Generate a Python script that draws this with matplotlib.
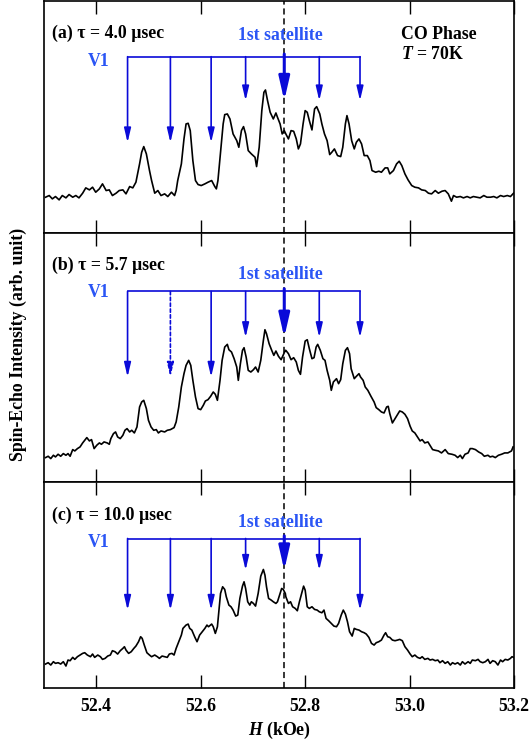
import numpy as np
import matplotlib
matplotlib.use("Agg")
import matplotlib.pyplot as plt

plt.rcParams['font.family'] = ['Liberation Serif', 'DejaVu Serif']
plt.rcParams['font.weight'] = 'bold'
plt.rcParams['mathtext.fontset'] = 'custom'
plt.rcParams['mathtext.it'] = 'Liberation Serif:italic:bold'
plt.rcParams['mathtext.rm'] = 'Liberation Serif:bold'
plt.rcParams['mathtext.bf'] = 'Liberation Serif:bold'

# (a) tau = 4.0 usec
H_a = [52.303, 52.310, 52.316, 52.322, 52.329, 52.335, 52.342, 52.348, 52.355, 52.361,
       52.367, 52.374, 52.380, 52.387, 52.393, 52.399, 52.406, 52.412, 52.419, 52.425,
       52.431, 52.438, 52.444, 52.451, 52.457, 52.464, 52.470, 52.476, 52.483, 52.487,
       52.491, 52.496, 52.502, 52.506, 52.512, 52.518, 52.524, 52.531, 52.537, 52.544,
       52.550, 52.553, 52.556, 52.563, 52.568, 52.572, 52.576, 52.580, 52.585, 52.590,
       52.595, 52.601, 52.608, 52.614, 52.621, 52.627, 52.630, 52.633, 52.639, 52.643,
       52.646, 52.651, 52.656, 52.662, 52.669, 52.673, 52.678, 52.682, 52.686, 52.691,
       52.697, 52.704, 52.707, 52.712, 52.717, 52.721, 52.724, 52.728, 52.733, 52.739,
       52.744, 52.747, 52.752, 52.756, 52.760, 52.763, 52.768, 52.773, 52.778, 52.783,
       52.787, 52.791, 52.796, 52.800, 52.804, 52.808, 52.813, 52.818, 52.822, 52.828,
       52.832, 52.837, 52.842, 52.847, 52.851, 52.856, 52.862, 52.868, 52.872, 52.877,
       52.880, 52.884, 52.889, 52.894, 52.898, 52.903, 52.908, 52.913, 52.919, 52.924,
       52.928, 52.935, 52.941, 52.946, 52.953, 52.958, 52.962, 52.969, 52.975, 52.980,
       52.985, 52.991, 52.997, 53.004, 53.010, 53.017, 53.023, 53.030, 53.036, 53.042,
       53.049, 53.055, 53.062, 53.068, 53.074, 53.080, 53.084, 53.090, 53.097, 53.103,
       53.110, 53.116, 53.122, 53.129, 53.135, 53.142, 53.148, 53.155, 53.161, 53.167,
       53.174, 53.180, 53.187, 53.193, 53.199]
I_a = [1.00, 1.05, 0.95, 1.02, 0.92, 1.05, 0.98, 1.08, 1.00, 1.05,
       0.98, 1.12, 1.28, 1.22, 1.30, 1.15, 1.25, 1.40, 1.20, 1.22,
       1.05, 1.12, 1.20, 1.22, 1.10, 1.32, 1.28, 1.45, 2.00, 2.35,
       2.52, 2.30, 1.80, 1.50, 1.12, 1.20, 1.05, 1.10, 1.02, 1.15,
       1.05, 1.20, 1.50, 2.00, 2.75, 3.20, 3.22, 3.00, 2.10, 1.50,
       1.38, 1.35, 1.40, 1.45, 1.50, 1.32, 1.25, 1.50, 2.50, 3.20,
       3.48, 3.50, 3.35, 2.90, 2.70, 2.50, 3.00, 3.12, 2.90, 2.40,
       2.30, 2.20, 1.92, 2.50, 3.60, 4.15, 4.22, 3.90, 3.55, 3.35,
       3.53, 3.40, 3.20, 2.90, 3.00, 2.90, 2.75, 3.00, 2.98, 2.75,
       2.45, 2.60, 3.20, 3.60, 3.55, 3.30, 3.02, 3.65, 3.72, 3.50,
       3.20, 2.90, 2.70, 2.28, 2.35, 2.45, 2.25, 2.22, 2.50, 3.20,
       3.45, 3.20, 2.70, 2.45, 2.65, 2.75, 2.60, 2.25, 2.25, 2.10,
       1.80, 1.75, 1.78, 1.75, 1.88, 1.88, 1.70, 1.80, 2.00, 2.08,
       1.95, 1.70, 1.52, 1.35, 1.30, 1.28, 1.22, 1.20, 1.12, 1.10,
       1.20, 1.12, 1.18, 1.20, 1.10, 0.88, 1.05, 1.00, 1.02, 0.98,
       1.02, 0.98, 1.02, 1.00, 0.98, 1.05, 1.00, 1.00, 1.02, 0.98,
       1.05, 1.02, 1.05, 1.02, 1.12]

# (b) tau = 5.7 usec
H_b = [52.303, 52.308, 52.313, 52.318, 52.322, 52.327, 52.332, 52.337, 52.342, 52.346,
       52.350, 52.355, 52.359, 52.364, 52.369, 52.374, 52.378, 52.382, 52.387, 52.391,
       52.396, 52.401, 52.406, 52.410, 52.415, 52.421, 52.425, 52.428, 52.433, 52.437,
       52.441, 52.446, 52.451, 52.455, 52.459, 52.464, 52.468, 52.473, 52.478, 52.483,
       52.487, 52.491, 52.496, 52.500, 52.505, 52.510, 52.515, 52.519, 52.524, 52.531,
       52.536, 52.542, 52.549, 52.553, 52.558, 52.563, 52.568, 52.572, 52.577, 52.581,
       52.585, 52.590, 52.595, 52.600, 52.605, 52.609, 52.614, 52.619, 52.624, 52.628,
       52.632, 52.637, 52.641, 52.646, 52.651, 52.654, 52.659, 52.664, 52.669, 52.672,
       52.676, 52.680, 52.683, 52.687, 52.691, 52.696, 52.701, 52.705, 52.710, 52.715,
       52.720, 52.723, 52.726, 52.731, 52.736, 52.740, 52.744, 52.749, 52.754, 52.759,
       52.762, 52.763, 52.768, 52.773, 52.778, 52.783, 52.787, 52.791, 52.795, 52.800,
       52.804, 52.808, 52.813, 52.817, 52.821, 52.824, 52.829, 52.834, 52.838, 52.842,
       52.847, 52.850, 52.854, 52.860, 52.864, 52.868, 52.872, 52.877, 52.881, 52.885,
       52.888, 52.894, 52.898, 52.903, 52.906, 52.911, 52.915, 52.920, 52.926, 52.932,
       52.936, 52.941, 52.946, 52.951, 52.956, 52.959, 52.962, 52.967, 52.972, 52.977,
       52.981, 52.986, 52.991, 52.996, 53.001, 53.005, 53.010, 53.015, 53.020, 53.024,
       53.029, 53.035, 53.039, 53.044, 53.049, 53.055, 53.061, 53.068, 53.074, 53.081,
       53.087, 53.092, 53.097, 53.101, 53.106, 53.112, 53.116, 53.120, 53.126, 53.132,
       53.138, 53.143, 53.150, 53.154, 53.159, 53.164, 53.170, 53.176, 53.182, 53.188,
       53.195, 53.198]
I_b = [0.88, 0.92, 0.85, 0.95, 0.90, 0.98, 0.92, 1.00, 0.95, 1.00,
       0.92, 1.12, 1.08, 1.15, 1.20, 1.32, 1.40, 1.48, 1.38, 1.42,
       1.15, 1.25, 1.32, 1.28, 1.35, 1.32, 1.28, 1.45, 1.60, 1.65,
       1.50, 1.45, 1.55, 1.70, 1.75, 1.65, 1.70, 1.62, 1.80, 2.40,
       2.55, 2.60, 2.35, 2.00, 1.80, 1.70, 1.72, 1.62, 1.68, 1.65,
       1.70, 1.72, 1.78, 1.95, 2.40, 3.00, 3.40, 3.65, 3.80, 3.65,
       3.20, 2.70, 2.35, 2.32, 2.45, 2.58, 2.62, 2.72, 2.85, 2.78,
       2.60, 3.20, 3.80, 4.20, 4.28, 4.12, 4.05, 3.85, 3.60, 3.20,
       3.70, 4.10, 4.18, 3.90, 3.50, 3.45, 3.52, 3.60, 3.45, 3.80,
       4.40, 4.72, 4.60, 4.30, 4.10, 3.95, 4.08, 3.92, 3.82, 4.00,
       4.10, 4.10, 4.00, 3.82, 3.88, 3.75, 3.50, 3.38, 3.90, 4.38,
       4.42, 4.15, 3.85, 3.88, 4.20, 4.28, 4.10, 3.85, 3.80, 3.50,
       3.20, 2.90, 3.15, 3.25, 3.10, 3.22, 3.70, 4.10, 4.18, 4.00,
       3.55, 3.25, 3.32, 3.40, 3.30, 3.20, 3.00, 2.90, 2.72, 2.55,
       2.38, 2.32, 2.25, 2.22, 2.40, 2.42, 2.20, 1.92, 2.05, 2.18,
       2.28, 2.25, 2.18, 2.05, 1.82, 1.68, 1.62, 1.50, 1.38, 1.42,
       1.32, 1.35, 1.25, 1.12, 1.10, 1.08, 1.02, 1.12, 1.00, 0.98,
       0.95, 0.88, 0.95, 0.85, 0.98, 1.02, 1.15, 1.15, 1.12, 1.05,
       1.00, 0.92, 0.95, 0.90, 0.92, 0.88, 0.95, 0.98, 1.02, 1.02,
       1.08, 1.20]

# (c) tau = 10.0 usec
H_c = [52.303, 52.308, 52.313, 52.318, 52.322, 52.327, 52.332, 52.337, 52.342, 52.346,
       52.350, 52.355, 52.359, 52.364, 52.369, 52.374, 52.378, 52.383, 52.389, 52.393,
       52.397, 52.403, 52.408, 52.412, 52.417, 52.422, 52.427, 52.431, 52.436, 52.441,
       52.446, 52.451, 52.454, 52.457, 52.462, 52.467, 52.472, 52.476, 52.481, 52.485,
       52.488, 52.492, 52.497, 52.502, 52.506, 52.512, 52.517, 52.521, 52.526, 52.531,
       52.536, 52.540, 52.545, 52.549, 52.553, 52.558, 52.563, 52.566, 52.569, 52.572,
       52.576, 52.579, 52.583, 52.589, 52.593, 52.598, 52.603, 52.608, 52.612, 52.615,
       52.621, 52.624, 52.628, 52.632, 52.635, 52.638, 52.642, 52.646, 52.649, 52.654,
       52.658, 52.662, 52.667, 52.671, 52.675, 52.680, 52.683, 52.686, 52.690, 52.694,
       52.697, 52.701, 52.705, 52.710, 52.715, 52.720, 52.723, 52.726, 52.730, 52.735,
       52.739, 52.744, 52.747, 52.752, 52.755, 52.758, 52.762, 52.763, 52.768, 52.772,
       52.776, 52.781, 52.785, 52.789, 52.794, 52.797, 52.800, 52.804, 52.808, 52.813,
       52.818, 52.823, 52.827, 52.832, 52.836, 52.840, 52.845, 52.850, 52.855, 52.860,
       52.864, 52.869, 52.873, 52.877, 52.881, 52.885, 52.890, 52.894, 52.898, 52.903,
       52.908, 52.913, 52.917, 52.922, 52.927, 52.932, 52.936, 52.941, 52.946, 52.951,
       52.954, 52.958, 52.962, 52.967, 52.972, 52.977, 52.981, 52.986, 52.991, 52.996,
       53.001, 53.005, 53.010, 53.015, 53.020, 53.024, 53.029, 53.035, 53.039, 53.044,
       53.049, 53.054, 53.058, 53.063, 53.068, 53.073, 53.078, 53.082, 53.087, 53.092,
       53.097, 53.101, 53.106, 53.112, 53.116, 53.120, 53.126, 53.131, 53.135, 53.140,
       53.145, 53.150, 53.154, 53.159, 53.164, 53.169, 53.174, 53.178, 53.183, 53.188,
       53.193, 53.196, 53.199]
I_c = [0.88, 0.92, 0.85, 0.95, 0.90, 0.92, 0.88, 0.95, 0.82, 1.00,
       0.98, 1.08, 1.02, 1.10, 1.15, 1.20, 1.22, 1.15, 1.10, 1.18,
       1.08, 1.15, 1.10, 1.02, 1.05, 1.12, 1.15, 1.28, 1.25, 1.18,
       1.28, 1.35, 1.40, 1.30, 1.20, 1.25, 1.35, 1.42, 1.55, 1.70,
       1.65, 1.45, 1.22, 1.15, 1.10, 1.15, 1.10, 1.05, 1.12, 1.10,
       1.08, 1.18, 1.20, 1.15, 1.35, 1.55, 1.75, 1.95, 2.00, 2.05,
       2.08, 1.95, 1.90, 1.68, 1.55, 1.75, 1.85, 1.95, 2.05, 2.00,
       2.08, 2.00, 1.80, 2.00, 2.50, 3.00, 3.20, 3.12, 2.90, 2.65,
       2.60, 2.50, 2.32, 2.35, 2.85, 3.22, 3.35, 3.15, 2.75, 2.65,
       2.75, 2.70, 2.62, 3.00, 3.52, 3.72, 3.55, 3.20, 2.85, 2.80,
       2.75, 2.70, 2.75, 3.00, 3.15, 3.12, 3.00, 2.90, 2.70, 2.75,
       2.60, 2.55, 2.48, 2.75, 3.05, 3.22, 3.10, 2.60, 2.55, 2.60,
       2.52, 2.50, 2.45, 2.42, 2.50, 2.25, 2.18, 2.10, 2.02, 2.00,
       2.10, 2.35, 2.50, 2.38, 2.15, 1.85, 1.72, 1.95, 1.92, 1.90,
       1.85, 1.82, 1.78, 1.68, 1.50, 1.45, 1.52, 1.55, 1.60, 1.75,
       1.82, 1.70, 1.68, 1.60, 1.58, 1.60, 1.62, 1.58, 1.40, 1.30,
       1.18, 1.10, 1.15, 1.08, 1.05, 1.10, 1.02, 1.05, 1.00, 1.02,
       0.98, 1.00, 0.92, 0.98, 0.90, 0.95, 0.85, 0.92, 0.88, 0.92,
       0.85, 0.95, 0.88, 0.95, 0.90, 1.00, 0.98, 1.02, 0.95, 0.92,
       0.95, 1.02, 0.90, 0.98, 0.95, 0.85, 1.00, 0.95, 1.02, 1.00,
       1.05, 1.10, 1.08]

# V1 satellite line positions (kOe), index 4 is the 1st satellite centre
v1_pos = [52.460, 52.542, 52.620, 52.686, 52.760, 52.827, 52.905]
center_H = 52.760

panels = [
    dict(H=H_a, I=I_a, ylim=(-0.09, 6.90), bar=5.22, long=2.64, short=3.90,
         long_idx=[0, 1, 2], dotted=[], label='(a) τ = 4.0 µsec',
         ly=0.858, sy=0.850, vy=0.738),
    dict(H=H_b, I=I_b, ylim=(0.14, 7.61), bar=5.87, long=3.30, short=4.49,
         long_idx=[0, 1, 2], dotted=[1], label='(b) τ = 5.7 µsec',
         ly=0.871, sy=0.835, vy=0.763),
    dict(H=H_c, I=I_c, ylim=(0.16, 6.34), bar=4.65, long=2.50, short=3.70,
         long_idx=[0, 1, 2, 6], dotted=[], label='(c) τ = 10.0 µsec',
         ly=0.840, sy=0.806, vy=0.709),
]

blue = '#0a0ad8'
txtblue = '#2a55f5'
fs = 12.8

fig = plt.figure(figsize=(5.30, 7.45), dpi=100)
gs = fig.add_gridspec(3, 1, height_ratios=[233, 249, 206], hspace=0,
                      left=0.083, right=0.970, top=0.999, bottom=0.0765)

for k, p in enumerate(panels):
    ax = fig.add_subplot(gs[k])
    ax.plot(p['H'], p['I'], color='black', lw=1.2)
    ax.set_xlim(52.3, 53.2)
    ax.set_ylim(*p['ylim'])
    ax.axvline(center_H, color='black', lw=1.1, ls=(0, (4, 2.5)))

    # V1 bar and arrows
    ax.plot([v1_pos[0], v1_pos[-1]], [p['bar'], p['bar']], color=blue, lw=1.2)
    for i, h in enumerate(v1_pos):
        tip = p['long'] if i in p['long_idx'] else p['short']
        if i == 4:
            ax.annotate('', xy=(h, tip), xytext=(h, p['bar'] + 0.08),
                        arrowprops=dict(arrowstyle='-|>,head_length=1.4,head_width=0.32',
                                        mutation_scale=10, color=blue, lw=2.2,
                                        shrinkA=0, shrinkB=0))
        else:
            ls = (0, (2, 1.5)) if i in p['dotted'] else '-'
            ax.annotate('', xy=(h, tip), xytext=(h, p['bar']),
                        arrowprops=dict(arrowstyle='-|>,head_length=0.85,head_width=0.2',
                                        mutation_scale=10, color=blue, lw=1.2,
                                        linestyle=ls, shrinkA=0, shrinkB=0))

    ax.text(0.017, p['ly'], p['label'], transform=ax.transAxes, fontsize=fs,
            fontweight='bold', va='center', ha='left')
    ax.text(0.502, p['sy'], '1st satellite', transform=ax.transAxes, fontsize=fs,
            fontweight='bold', color=txtblue, va='center', ha='center')
    ax.text(0.117, p['vy'], 'V1', transform=ax.transAxes, fontsize=fs,
            fontweight='bold', color=txtblue, va='center', ha='center')

    ax.set_xticks([52.4, 52.6, 52.8, 53.0, 53.2])
    ax.set_yticks([])
    ax.tick_params(axis='x', direction='in', top=True, bottom=True, length=9.5,
                   width=1.0, labelsize=fs, pad=7)
    for s in ax.spines.values():
        s.set_linewidth(1.2)
    if k < 2:
        ax.tick_params(axis='x', labelbottom=False)
    else:
        ax.set_xticklabels(['52.4', '52.6', '52.8', '53.0', '53.2'], fontweight='bold')
        ax.set_xlabel('$H$ (kOe)', fontsize=fs, fontweight='bold', labelpad=4)
    if k == 0:
        ax.text(0.760, 0.854, 'CO Phase', transform=ax.transAxes, fontsize=fs,
                fontweight='bold', va='center', ha='left')
        ax.text(0.760, 0.768, '$T$ = 70K', transform=ax.transAxes, fontsize=fs,
                fontweight='bold', va='center', ha='left')

fig.text(0.034, 0.538, 'Spin-Echo Intensity (arb. unit)', rotation=90,
         fontsize=fs, fontweight='bold', va='center', ha='center')

fig.savefig('out.png', dpi=100)
